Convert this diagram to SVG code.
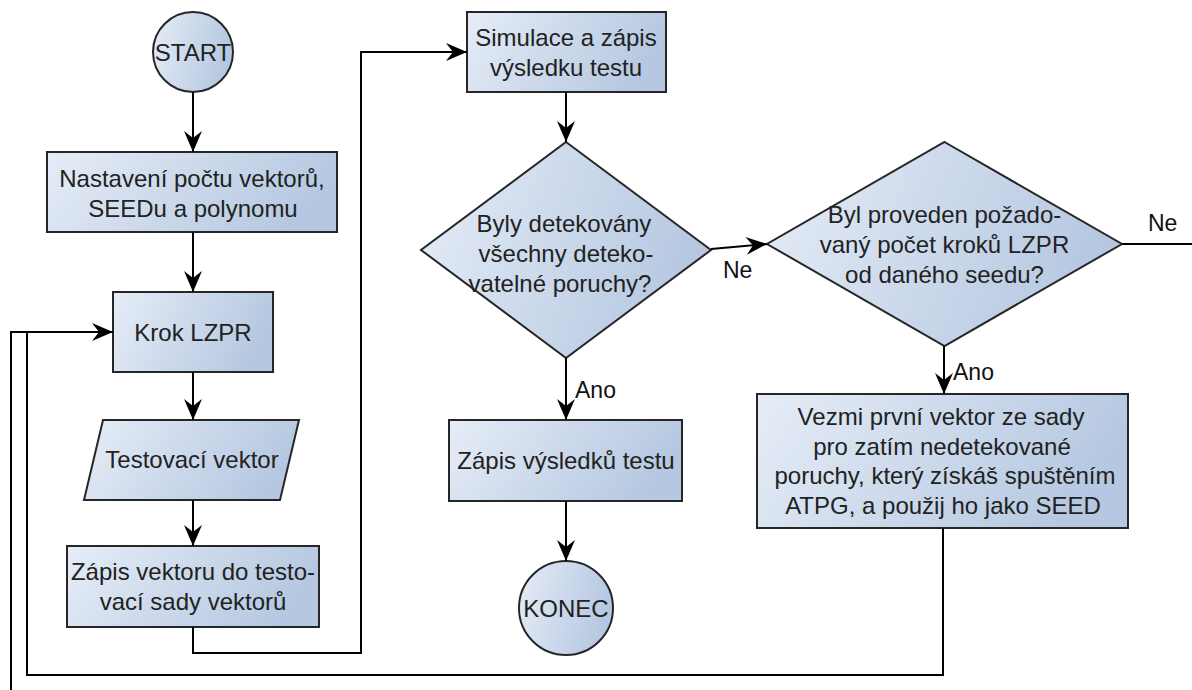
<svg xmlns="http://www.w3.org/2000/svg" width="1192" height="690" viewBox="0 0 1192 690">
  <defs>
    <linearGradient id="fillGrad" x1="0" y1="0" x2="1" y2="0.25">
      <stop offset="0" stop-color="#e6edf7"/>
      <stop offset="1" stop-color="#b6c8e1"/>
    </linearGradient>
    <marker id="arrow" markerUnits="userSpaceOnUse" viewBox="0 0 21 18" markerWidth="21" markerHeight="18" refX="21" refY="9" orient="auto">
      <path d="M21 9 L0 0 L7 9 L0 18 Z" fill="#000"/>
    </marker>
    <style>
      .shape { fill: url(#fillGrad); stroke: #262626; stroke-width: 2; }
      .txt { font-family: "Liberation Sans", Arial, sans-serif; font-size: 24px; fill: #222; text-anchor: middle; }
      .lbl { font-family: "Liberation Sans", Arial, sans-serif; font-size: 23px; fill: #111; }
      .conn { fill: none; stroke: #000; stroke-width: 2; }
      .arr { marker-end: url(#arrow); }
    </style>
  </defs>
  <rect width="1192" height="690" fill="#fff"/>

  <g id="start">
    <circle class="shape" cx="193" cy="52" r="40"/>
    <text class="txt" x="193" y="61">START</text>
  </g>

  <g id="setup">
    <rect class="shape" x="47" y="152" width="290" height="80"/>
    <text class="txt" x="192" y="187">Nastavení počtu vektorů,</text>
    <text class="txt" x="193" y="217">SEEDu a polynomu</text>
  </g>

  <g id="lfsr-step">
    <rect class="shape" x="113" y="292" width="160" height="80"/>
    <text class="txt" x="193" y="341">Krok LZPR</text>
  </g>

  <g id="test-vector">
    <polygon class="shape" points="103,420 299,420 280,500 84,500"/>
    <text class="txt" x="192" y="468">Testovací vektor</text>
  </g>

  <g id="write-vector">
    <rect class="shape" x="67" y="546" width="252" height="81"/>
    <text class="txt" x="193" y="580">Zápis vektoru do testo-</text>
    <text class="txt" x="193" y="610">vací sady vektorů</text>
  </g>

  <g id="simulate">
    <rect class="shape" x="467" y="12" width="199" height="80"/>
    <text class="txt" x="566" y="46">Simulace a zápis</text>
    <text class="txt" x="566" y="76">výsledku testu</text>
  </g>

  <g id="all-detected">
    <polygon class="shape" points="566,142 711,250 566,358 421,250"/>
    <text class="txt" x="564" y="232">Byly detekovány</text>
    <text class="txt" x="566" y="262">všechny deteko-</text>
    <text class="txt" x="560" y="292">vatelné poruchy?</text>
  </g>

  <g id="write-results">
    <rect class="shape" x="449" y="420" width="233" height="81"/>
    <text class="txt" x="566" y="469">Zápis výsledků testu</text>
  </g>

  <g id="end">
    <circle class="shape" cx="566" cy="608" r="47"/>
    <text class="txt" x="566" y="617">KONEC</text>
  </g>

  <g id="steps-done">
    <polygon class="shape" points="944.5,142 1122,244 944.5,346 767,244"/>
    <text class="txt" x="944.5" y="223">Byl proveden požado-</text>
    <text class="txt" x="944.5" y="253">vaný počet kroků LZPR</text>
    <text class="txt" x="944.5" y="283">od daného seedu?</text>
  </g>

  <g id="new-seed">
    <rect class="shape" x="757" y="394" width="371" height="134"/>
    <text class="txt" x="941" y="425">Vezmi první vektor ze sady</text>
    <text class="txt" x="942" y="454.5">pro zatím nedetekované</text>
    <text class="txt" x="945" y="484">poruchy, který získáš spuštěním</text>
    <text class="txt" x="943" y="513.5">ATPG, a použij ho jako SEED</text>
  </g>

  <g id="connectors">
    <path class="conn arr" d="M193 92 V152"/>
    <path class="conn arr" d="M193 232 V292"/>
    <path class="conn arr" d="M193 372 V420"/>
    <path class="conn arr" d="M193 500 V546"/>
    <path class="conn arr" d="M193 627 V653 H361 V52 H467"/>
    <path class="conn arr" d="M566 92 V142"/>
    <path class="conn arr" d="M566 358 V420"/>
    <path class="conn arr" d="M566 501 V561"/>
    <path class="conn arr" d="M711 249 L767 244"/>
    <path class="conn arr" d="M944 346 V394"/>
    <path class="conn arr" d="M943 528 V675 H27 V332 H113"/>
    <path class="conn" d="M1122 244 H1200"/>
    <path class="conn" d="M11 700 V332 H27"/>
    <text class="lbl" x="575" y="398">Ano</text>
    <text class="lbl" x="723" y="278">Ne</text>
    <text class="lbl" x="953" y="380">Ano</text>
    <text class="lbl" x="1148" y="231">Ne</text>
  </g>
</svg>
